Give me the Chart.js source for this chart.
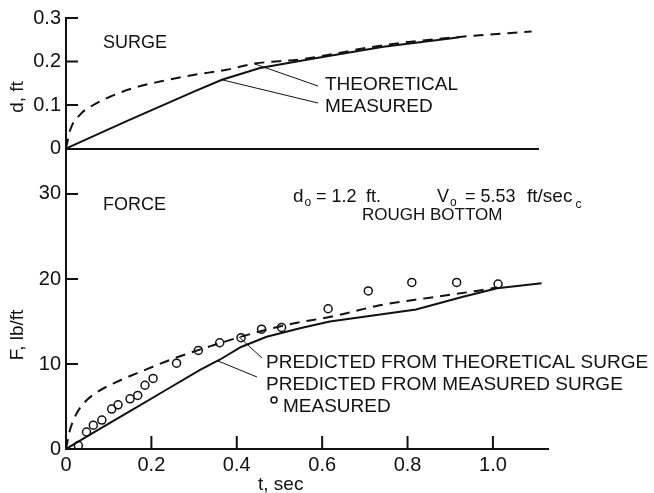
<!DOCTYPE html>
<html>
<head>
<meta charset="utf-8">
<script src="https://cdn.jsdelivr.net/npm/chart.js@4"></script>
<style>
  html, body { margin: 0; padding: 0; background: #fff; }
  #wrap { position: relative; width: 654px; height: 493px; }
  #wrap canvas { position: absolute; left: 0; top: 0; }
</style>
</head>
<body>
<div id="wrap">
  <canvas id="surge" width="654" height="493"></canvas>
  <canvas id="force" width="654" height="493"></canvas>
</div>
<script>
// surge depth d (ft) vs time t (sec)
const tSurgeTheo = [0, 0.01, 0.033, 0.064, 0.103, 0.158, 0.22, 0.298, 0.376, 0.44, 0.55, 0.74, 0.915, 1.09];
const dSurgeTheo = [0, 0.043, 0.078, 0.1, 0.119, 0.139, 0.154, 0.169, 0.181, 0.195, 0.205, 0.237, 0.256, 0.269];
const tSurgeMeas = [0, 0.142, 0.298, 0.365, 0.454, 0.587, 0.743, 0.899, 0.92];
const dSurgeMeas = [0, 0.063, 0.13, 0.158, 0.185, 0.208, 0.234, 0.253, 0.256];

// force F (lb/ft) vs time t (sec)
const tForceTheo = [0, 0.008, 0.022, 0.042, 0.07, 0.119, 0.18, 0.25, 0.345, 0.423, 0.517, 0.634, 0.735, 0.852, 0.962, 1.01];
const fForceTheo = [0, 2.0, 3.9, 5.4, 6.6, 7.9, 9.2, 10.6, 12.2, 13.4, 14.6, 15.7, 16.9, 17.8, 18.6, 19.0];
const tForceMeasSurge = [0, 0.08, 0.158, 0.236, 0.314, 0.36, 0.41, 0.47, 0.548, 0.618, 0.82, 0.93, 1.01, 1.114];
const fForceMeasSurge = [0, 2.4, 4.7, 7.0, 9.3, 10.5, 12.0, 13.2, 14.2, 15.0, 16.4, 17.9, 18.9, 19.5];
const tForceMeas = [0.029, 0.048, 0.064, 0.084, 0.107, 0.122, 0.15, 0.168, 0.185, 0.204, 0.259, 0.31, 0.36, 0.41, 0.458, 0.505, 0.614, 0.708, 0.81, 0.915, 1.012];
const fForceMeas = [0.4, 2.0, 2.8, 3.4, 4.7, 5.2, 5.9, 6.3, 7.5, 8.3, 10.1, 11.6, 12.5, 13.1, 14.1, 14.3, 16.5, 18.6, 19.6, 19.6, 19.4];

// axis ticks
const surgeTicks = [0, 0.1, 0.2, 0.3];
const surgeLabels = ['0', '0.1', '0.2', '0.3'];
const forceTicks = [0, 10, 20, 30];
const forceLabels = ['0', '10', '20', '30'];
const timeTicks = [0, 0.2, 0.4, 0.6, 0.8, 1.0];
const timeLabels = ['0', '0.2', '0.4', '0.6', '0.8', '1.0'];

const INK = '#111';
const FONT = '"Liberation Sans", Arial, sans-serif';

function pts(xs, ys) {
  return xs.map((x, i) => ({ x: x, y: ys[i] }));
}

// draws text and returns the x where it ends
function text(ctx, s, x, y, size) {
  ctx.font = size + 'px ' + FONT;
  ctx.fillText(s, x, y);
  return x + ctx.measureText(s).width;
}

function seg(ctx, x1, y1, x2, y2, w) {
  ctx.lineWidth = w;
  ctx.beginPath();
  ctx.moveTo(x1, y1);
  ctx.lineTo(x2, y2);
  ctx.stroke();
}

function rotated(ctx, s, cx, cy, size) {
  ctx.save();
  ctx.translate(cx, cy);
  ctx.rotate(-Math.PI / 2);
  ctx.textAlign = 'center';
  text(ctx, s, 0, 0, size);
  ctx.restore();
}

// inward tick marks, drawn from the scales
function drawTicks(chart, yTicks, xTicks) {
  const ctx = chart.ctx, area = chart.chartArea;
  const sx = chart.scales.x, sy = chart.scales.y;
  ctx.save();
  ctx.strokeStyle = INK;
  ctx.setLineDash([]);
  yTicks.forEach(v => {
    if (v === 0) return;
    const py = sy.getPixelForValue(v);
    seg(ctx, area.left, py, area.left + 12, py, 2);
  });
  xTicks.forEach(v => {
    if (v === 0) return;
    const px = sx.getPixelForValue(v);
    seg(ctx, px, area.bottom, px, area.bottom - 13, 2);
  });
  ctx.restore();
}

function yAxis(ticks, labels, min, max) {
  return {
    min: min, max: max,
    afterFit: s => { s.width = 66; s.paddingTop = 0; s.paddingBottom = 0; },
    afterBuildTicks: s => { s.ticks = ticks.map(v => ({ value: v })); },
    grid: { display: false, drawTicks: false },
    border: { display: true, width: 2, color: INK },
    ticks: {
      padding: 5, color: INK, font: { family: FONT, size: 20 },
      callback: (v, i) => labels[i]
    }
  };
}

const lineStyle = { borderColor: INK, borderWidth: 2, pointRadius: 0, fill: false };

// ---- top panel: surge
new Chart(document.getElementById('surge'), {
  type: 'line',
  data: {
    datasets: [
      Object.assign({ data: pts(tSurgeTheo, dSurgeTheo), borderDash: [10, 7], cubicInterpolationMode: 'monotone' }, lineStyle),
      Object.assign({ data: pts(tSurgeMeas, dSurgeMeas), tension: 0 }, lineStyle)
    ]
  },
  options: {
    responsive: false, animation: false, devicePixelRatio: 1,
    layout: { padding: { left: 0, top: 18, right: 116, bottom: 344.5 } },
    plugins: { legend: { display: false }, tooltip: { enabled: false } },
    scales: {
      x: {
        type: 'linear', min: 0, max: 1.105,
        afterFit: s => { s.height = 0; s.paddingLeft = 0; s.paddingRight = 0; },
        ticks: { display: false },
        grid: { display: false, drawTicks: false },
        border: { display: true, width: 2, color: INK }
      },
      y: yAxis(surgeTicks, surgeLabels, 0, 0.3)
    }
  },
  plugins: [{
    id: 'surgeInk',
    afterDraw(chart) {
      const ctx = chart.ctx;
      const sx = chart.scales.x, sy = chart.scales.y;
      drawTicks(chart, surgeTicks, []);
      ctx.save();
      ctx.strokeStyle = INK;
      ctx.fillStyle = INK;
      ctx.setLineDash([]);
      seg(ctx, sx.getPixelForValue(0.44), sy.getPixelForValue(0.195), 318, 86, 1);
      seg(ctx, sx.getPixelForValue(0.365), sy.getPixelForValue(0.158), 318, 103, 1);
      text(ctx, 'SURGE', 103, 48, 18);
      text(ctx, 'THEORETICAL', 325, 90, 19);
      text(ctx, 'MEASURED', 325, 112, 19);
      rotated(ctx, 'd, ft', 23, 97, 19);
      ctx.restore();
    }
  }]
});

// ---- bottom panel: force
new Chart(document.getElementById('force'), {
  type: 'line',
  data: {
    datasets: [
      Object.assign({ data: pts(tForceTheo, fForceTheo), borderDash: [10, 7], cubicInterpolationMode: 'monotone' }, lineStyle),
      Object.assign({ data: pts(tForceMeasSurge, fForceMeasSurge), tension: 0 }, lineStyle),
      {
        data: pts(tForceMeas, fForceMeas), showLine: false,
        pointRadius: 4, pointBorderWidth: 1.5, pointBorderColor: INK,
        pointBackgroundColor: 'rgba(0,0,0,0)'
      }
    ]
  },
  options: {
    responsive: false, animation: false, devicePixelRatio: 1,
    layout: { padding: { left: 0, top: 148.5, right: 106, bottom: 0 } },
    plugins: { legend: { display: false }, tooltip: { enabled: false } },
    scales: {
      x: {
        type: 'linear', min: 0, max: 1.129,
        afterFit: s => { s.height = 44; s.paddingLeft = 0; s.paddingRight = 0; },
        afterBuildTicks: s => { s.ticks = timeTicks.map(v => ({ value: v })); },
        grid: { display: false, drawTicks: false },
        border: { display: true, width: 2, color: INK },
        ticks: {
          padding: 4, color: INK, maxRotation: 0, autoSkip: false,
          font: { family: FONT, size: 20 },
          callback: (v, i) => timeLabels[i]
        }
      },
      y: yAxis(forceTicks, forceLabels, 0, 35.35)
    }
  },
  plugins: [{
    id: 'forceInk',
    afterDraw(chart) {
      const ctx = chart.ctx;
      const sx = chart.scales.x, sy = chart.scales.y;
      drawTicks(chart, forceTicks, timeTicks);
      ctx.save();
      ctx.strokeStyle = INK;
      ctx.fillStyle = INK;
      ctx.setLineDash([]);
      seg(ctx, sx.getPixelForValue(0.405), sy.getPixelForValue(13.2), 262, 358, 1);
      seg(ctx, sx.getPixelForValue(0.354), sy.getPixelForValue(10.4), 257, 377, 1);

      text(ctx, 'FORCE', 103, 210, 18);
      let end = text(ctx, 'd', 293, 201.5, 19);
      text(ctx, 'o', end + 1, 206, 12);
      text(ctx, '= 1.2', 316, 201.5, 18);
      text(ctx, 'ft.', 366, 201.5, 18);
      end = text(ctx, 'V', 437, 201.5, 18);
      text(ctx, 'o', end + 1, 206, 12);
      text(ctx, '= 5.53', 465, 201.5, 18);
      end = text(ctx, 'ft/sec', 527, 201.5, 19);
      text(ctx, 'c', end + 3, 208, 12);
      text(ctx, 'ROUGH BOTTOM', 362, 220, 17);

      text(ctx, 'PREDICTED FROM THEORETICAL SURGE', 266, 368, 19);
      text(ctx, 'PREDICTED FROM MEASURED SURGE', 266, 390, 19);
      ctx.lineWidth = 1.5;
      ctx.beginPath();
      ctx.arc(274, 400, 3, 0, Math.PI * 2);
      ctx.stroke();
      text(ctx, 'MEASURED', 283, 412, 19);

      text(ctx, 't, sec', 258, 490, 19);
      rotated(ctx, 'F, lb/ft', 23, 335, 19);
      ctx.restore();
    }
  }]
});
</script>
</body>
</html>
